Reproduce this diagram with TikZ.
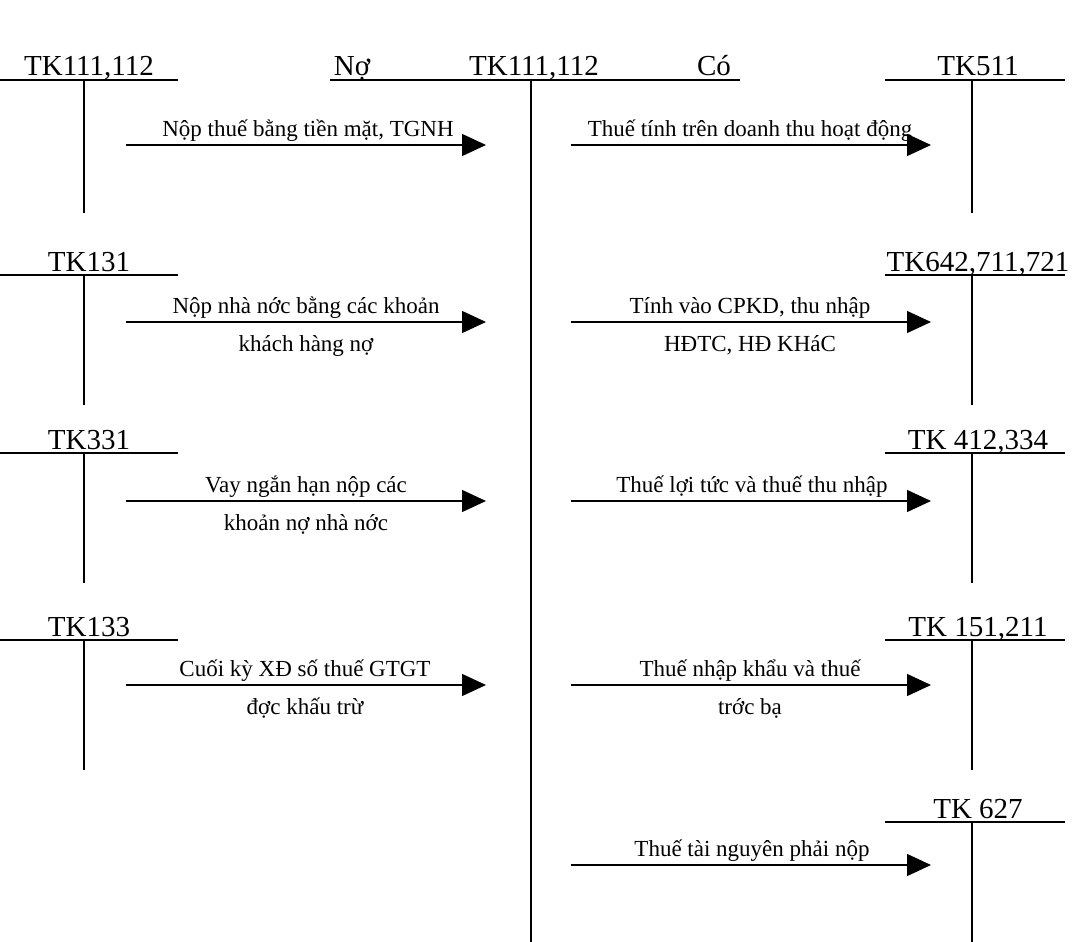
\documentclass[tikz,border=0pt]{standalone}
\usepackage{fontspec}
\setmainfont{Liberation Serif}
\usetikzlibrary{arrows.meta}
\begin{document}
\begin{tikzpicture}[x=1pt,y=-1pt,line width=1.3pt,
  acc/.style={font=\fontsize{29}{30}\selectfont,inner sep=0pt,anchor=base},
  lab/.style={font=\fontsize{23}{38}\selectfont,inner sep=0pt,align=center,anchor=base},
  arr/.style={-{Triangle[length=24pt,width=22pt]}}]
\useasboundingbox (0,0) rectangle (1080,942);
% center account
\draw (330,80) -- (740,80);
\draw (531,80) -- (531,942);
\node[acc] (no) at (352,76) {Nợ};
\node[acc] (tc) at (534,76) {TK111,112};
\node[acc] (co) at (714,76) {Có};
% left accounts
\foreach \n/\t/\y/\l in {a/{TK111,112}/80/133, b/{TK131}/275/130, c/{TK331}/453/130, d/{TK133}/640/130}{
  \draw (0,\y) -- (178,\y);
  \draw (84,\y) -- (84,\y+\l);
  \node[acc] (\n) at (89,\y-4) {\t};
}
% right accounts
\foreach \n/\t/\y/\l in {e/{TK511}/80/133, f/{TK642,711,721}/275/130, g/{TK 412,334}/453/130, h/{TK 151,211}/640/130, i/{TK 627}/822/120}{
  \draw (885,\y) -- (1065,\y);
  \draw (972,\y) -- (972,\y+\l);
  \node[acc] (\n) at (978,\y-4) {\t};
}
% arrows
\foreach \k/\y in {1/145,2/322,3/501,4/685}{
  \coordinate (ls\k) at (126,\y); \coordinate (le\k) at (486,\y);
  \draw[arr] (ls\k) -- (le\k);
}
\foreach \k/\y in {1/145,2/322,3/501,4/685,5/865}{
  \coordinate (rs\k) at (571,\y); \coordinate (re\k) at (931,\y);
  \draw[arr] (rs\k) -- (re\k);
}
\node[lab] (l1) at (308,136) {Nộp thuế bằng tiền mặt, TGNH};
\node[lab] (l2) at (306,351) {Nộp nhà nớc bằng các khoản\\khách hàng nợ};
\node[lab] (l3) at (306,530) {Vay ngắn hạn nộp các\\khoản nợ nhà nớc};
\node[lab] (l4) at (305,714) {Cuối kỳ XĐ số thuế GTGT\\đợc khấu trừ};
\node[lab] (r1) at (750,136) {Thuế tính trên doanh thu hoạt động};
\node[lab] (r2) at (750,351) {Tính vào CPKD, thu nhập\\HĐTC, HĐ KHáC};
\node[lab] (r3) at (752,492) {Thuế lợi tức và thuế thu nhập};
\node[lab] (r4) at (750,714) {Thuế nhập khẩu và thuế\\trớc bạ};
\node[lab] (r5) at (752,856) {Thuế tài nguyên phải nộp};
\end{tikzpicture}
\end{document}
